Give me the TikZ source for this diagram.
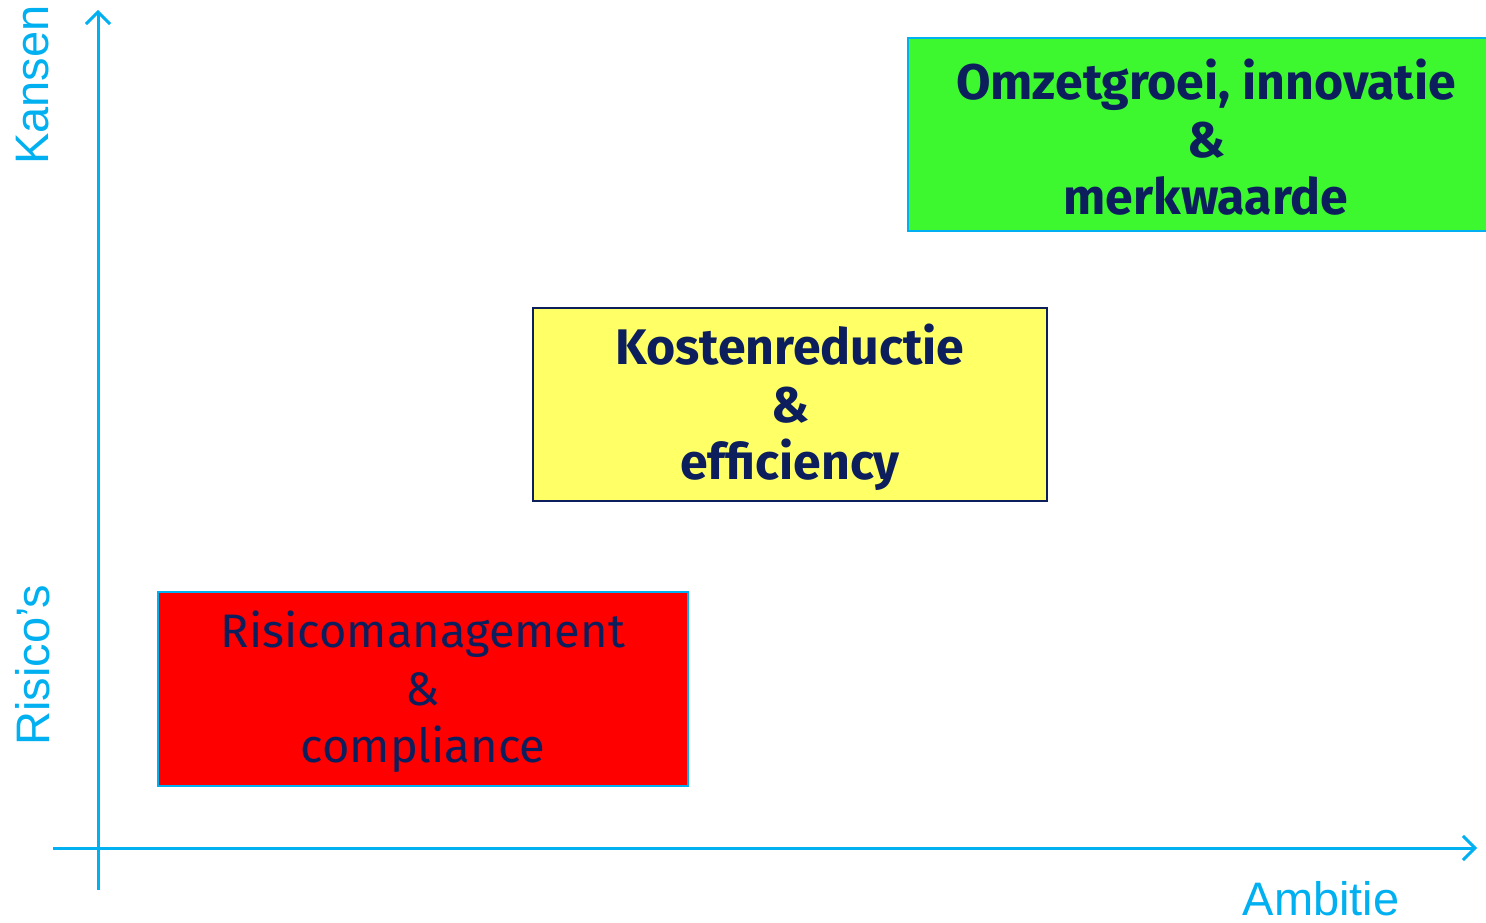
\documentclass[tikz,border=0pt]{standalone}
\usepackage{fontspec}
\setmainfont{Liberation Sans}
\newfontfamily\boxfont{Fira Sans}
\usetikzlibrary{arrows.meta}
\definecolor{axisblue}{HTML}{00B0F0}
\definecolor{navy}{HTML}{0C1F5C}
\definecolor{boxgreen}{HTML}{3DF72F}
\definecolor{boxyellow}{HTML}{FFFF66}
\definecolor{boxred}{HTML}{FF0000}
\tikzset{
  axisline/.style={draw=axisblue, line width=3pt, -{Straight Barb[length=12pt,width=24pt,line width=3pt]}},
  axislabel/.style={text=axisblue, font=\fontsize{47}{50}\selectfont, inner sep=0pt},
  quadbox/.style={rectangle, line width=1.5pt, inner sep=0pt},
  boxtext/.style={text=navy, align=center, inner sep=0pt, yshift=-3pt},
  boldtext/.style={font=\boxfont\bfseries\fontsize{50}{57.5}\selectfont},
  regtext/.style={font=\boxfont\fontsize{47}{57.5}\selectfont}
}
\begin{document}
\begin{tikzpicture}[x=1pt,y=-1pt]
\useasboundingbox (0,0) rectangle (1486,923);
\fill[white] (0,0) rectangle (1486,923);
% boxes
\node[quadbox, draw=axisblue, fill=boxgreen, minimum width=596pt, minimum height=193pt] (groei) at (1206,134.5) {};
\node[boxtext, boldtext] (groeitxt) at (groei.center) {Omzetgroei, innovatie\\\&\\merkwaarde};
\node[quadbox, draw=navy, fill=boxyellow, minimum width=514pt, minimum height=193pt] (kosten) at (790,404.5) {};
\node[boxtext, boldtext] (kostentxt) at (kosten.center) {Kostenreductie\\\&\\efficiency};
\node[quadbox, draw=axisblue, fill=boxred, minimum width=530pt, minimum height=194pt] (risico) at (423,689) {};
\node[boxtext, regtext] (risicotxt) at (risico.center) {Risicomanagement\\\&\\compliance};
% axes
\coordinate (ybottom) at (98,890);
\coordinate (ytop) at (98,10);
\coordinate (xleft) at (53,848);
\coordinate (xright) at (1477,848);
\draw[axisline] (ybottom) -- (ytop);
\draw[axisline] (xleft) -- (xright);
% labels
\node[axislabel, rotate=90] (kansen) at (33,85) {Kansen};
\node[axislabel, rotate=90] (risicos) at (33,665) {Risico’s};
\node[axislabel] (ambitie) at (1321,899) {Ambitie};
\end{tikzpicture}
\end{document}
